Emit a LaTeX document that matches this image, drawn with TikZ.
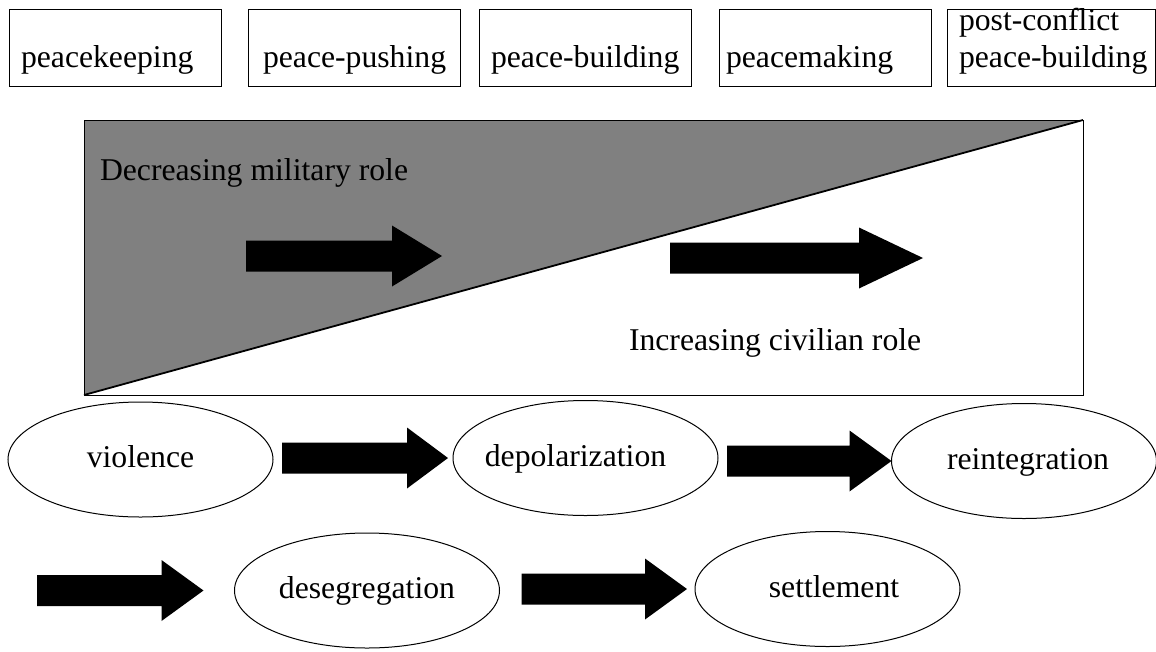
\documentclass[tikz,border=0pt]{standalone}
\usepackage{fontspec}
\setmainfont{Liberation Serif}
\usetikzlibrary{shapes.geometric,calc}
\newcommand\blockarrow[3]{%
  \fill[black] let \p1=#1, \p2=#2 in
    (\x1,\y2+15.5pt) -- (\x2-#3pt,\y2+15.5pt) -- (\x2-#3pt,\y2+30.5pt) -- (\x2,\y2)
    -- (\x2-#3pt,\y2-30.5pt) -- (\x2-#3pt,\y2-15.5pt) -- (\x1,\y2-15.5pt) -- cycle;}
\begin{document}
\begin{tikzpicture}[x=1pt,y=-1pt,font=\fontsize{31.7}{37}\selectfont,
  box/.style={draw,line width=1pt,minimum width=212pt,minimum height=77pt,anchor=north west,inner sep=0pt,outer sep=0pt},
  lbl/.style={anchor=base west,inner sep=0pt,outer sep=0pt},
  oval/.style={draw,ellipse,line width=1pt,minimum width=265pt,minimum height=115pt,inner sep=0pt,outer sep=0pt,text height=22pt,text depth=6pt},
  panel/.style={draw,line width=1pt,minimum width=999pt,minimum height=275pt,anchor=north west,inner sep=0pt,outer sep=0pt}]
\useasboundingbox (0,0) rectangle (1156,651);
% top boxes
\node[box] (b1) at (9,9) {};
\node[box] (b2) at (248,9) {};
\node[box] (b3) at (479,9) {};
\node[box] (b4) at (719,9) {};
\node[box,minimum width=208pt] (b5) at (947,9) {};
\node[lbl] (t1) at (21,67) {peacekeeping};
\node[lbl] (t2) at (263,67) {peace-pushing};
\node[lbl] (t3) at (491,67) {peace-building};
\node[lbl] (t4) at (726,67) {peacemaking};
\node[lbl] (t5) at (959,67) {\begin{tabular}[b]{@{}l@{}}post-conflict\\peace-building\end{tabular}};
% panel
\node[panel] (pan) at (84,120) {};
\fill[fill={rgb,255:red,128;green,128;blue,128}] (pan.north west) -- (pan.north east) -- (pan.south west) -- cycle;
\draw[line width=1pt] (pan.north west) rectangle (pan.south east);
\draw[line width=1.8pt] (pan.south west) -- (pan.north east);
\node[lbl] (dec) at (100,180) {Decreasing military role};
\node[lbl] (inc) at (629,350) {Increasing civilian role};
\coordinate (p1s) at (246,256);
\coordinate (p1t) at (442,256);
\coordinate (p2s) at (670,258);
\coordinate (p2t) at (923,258);
\blockarrow{(p1s)}{(p1t)}{50}
\blockarrow{(p2s)}{(p2t)}{64}
% ellipses
\node[oval] (vio) at (140.5,459.5) {violence};
\node[oval] (dep) at (585.5,458) {\hspace*{-20pt}depolarization};
\node[oval] (rei) at (1024,461) {\hspace*{8pt}reintegration};
\node[oval] (des) at (367,590.5) {desegregation};
\node[oval] (set) at (827.5,589) {\hspace*{13pt}settlement};
\coordinate (r2s) at (37,590.5);
\blockarrow{($(vio.east)+(9,0)$)}{($(dep.west)+(-5,0)$)}{41}
\blockarrow{($(dep.east)+(9,0)$)}{(rei.west)}{42}
\blockarrow{(r2s)}{($(des.west)+(-31,0)$)}{42}
\blockarrow{($(des.east)+(22,0)$)}{($(set.west)+(-8,0)$)}{42}
\end{tikzpicture}
\end{document}
